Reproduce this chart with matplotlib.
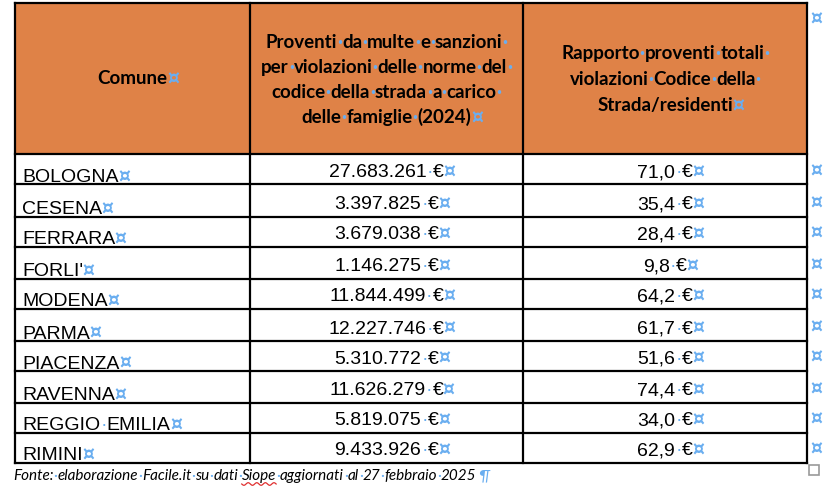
import matplotlib
matplotlib.use('Agg')
import numpy as np
import matplotlib.pyplot as plt
from matplotlib.patches import Rectangle

# Dati della tabella
comuni = ['BOLOGNA', 'CESENA', 'FERRARA', "FORLI'", 'MODENA', 'PARMA',
          'PIACENZA', 'RAVENNA', 'REGGIO EMILIA', 'RIMINI']
proventi = [27683261, 3397825, 3679038, 1146275, 11844499, 12227746,
            5310772, 11626279, 5819075, 9433926]
rapporto = [71.0, 35.4, 28.4, 9.8, 64.2, 61.7, 51.6, 74.4, 34.0, 62.9]

header_col1 = 'Comune'
header_col2 = ['Proventi da multe e sanzioni ', 'per violazioni delle norme del ',
               'codice della strada a carico ', 'delle famiglie (2024)']
header_col3 = ['Rapporto proventi totali ', 'violazioni Codice della ',
               'Strada/residenti']
fonte = 'Fonte: elaborazione Facile.it su dati Siope aggiornati al 27 febbraio 2025'

# Layout (pixel)
W, H = 838, 494
col_x = [15, 250, 523, 807]
table_top = 3.5
row_lines = [154.5, 184.5, 216.5, 246.5, 278.5, 308.5, 341, 371, 402.5, 432.5, 462.5]
orange = '#DF8247'
mark_blue = '#6AAEF0'
CELL_END = '\u00a4'
mark_font = dict(family='DejaVu Sans', fontweight='bold', fontsize=13.5)

fig = plt.figure(figsize=(W / 100, H / 100), dpi=100)
ax = fig.add_axes([0, 0, 1, 1])
ax.set_xlim(0, W)
ax.set_ylim(H, 0)
ax.axis('off')
renderer = fig.canvas.get_renderer()


def text_width(s, **kw):
    t = ax.text(0, 0, s, **kw)
    w = t.get_window_extent(renderer).width
    t.remove()
    return w


def draw_runs(x, y, text, ha='left', end=None, **kw):
    # testo con i segni di formattazione di Word (spazi come punti, fine cella)
    pieces = []
    words = text.split(' ')
    for i, wd in enumerate(words):
        if wd:
            pieces.append((wd, 'black', kw))
        if i < len(words) - 1:
            pieces.append(('\u00b7', mark_blue, kw))
    widths = [text_width(p, **k) for p, _, k in pieces]
    if ha == 'center':
        x = x - sum(widths) / 2
    spans = {}
    for (p, c, k), w in zip(pieces, widths):
        ax.text(x, y, p, color=c, va='baseline', ha='left', **k)
        spans[p] = (x, x + w)
        x += w
    if end:
        ax.text(x - 0.5, y + 0.5, end, color=mark_blue, va='baseline', ha='left', **mark_font)
    return spans


# Intestazione
ax.add_patch(Rectangle((col_x[0], table_top), col_x[-1] - col_x[0],
                       row_lines[0] - table_top, color=orange, lw=0))
hdr = dict(family='Lato', fontweight='bold', fontsize=13.5)
draw_runs((col_x[0] + col_x[1]) / 2, 84, header_col1, ha='center', end=CELL_END, **hdr)
for i, line in enumerate(header_col2):
    end = CELL_END if i == len(header_col2) - 1 else None
    draw_runs((col_x[1] + col_x[2]) / 2, 48.5 + i * 24.7, line, ha='center', end=end, **hdr)
for i, line in enumerate(header_col3):
    end = CELL_END if i == len(header_col3) - 1 else None
    draw_runs((col_x[2] + col_x[3]) / 2, 59 + i * 26, line, ha='center', end=end, **hdr)

# Righe
body = dict(family='Liberation Sans', fontsize=14)
for i, (c, p, r) in enumerate(zip(comuni, proventi, rapporto)):
    bottom = row_lines[i + 1]
    draw_runs(col_x[0] + 7, bottom - 2.5, c, end=CELL_END, **body)
    draw_runs((col_x[1] + col_x[2]) / 2, bottom - 7.5,
              f'{p:,}'.replace(',', '.') + ' \u20ac', ha='center', end=CELL_END, **body)
    draw_runs((col_x[2] + col_x[3]) / 2, bottom - 7.5,
              f'{r:.1f}'.replace('.', ',') + ' \u20ac', ha='center', end=CELL_END, **body)
    ax.text(810.5, bottom - 8, CELL_END, color=mark_blue, ha='left', va='baseline', **mark_font)
ax.text(810.5, 25, CELL_END, color=mark_blue, ha='left', va='baseline', **mark_font)

# Bordi
for y in [table_top] + row_lines:
    ax.plot([col_x[0], col_x[-1]], [y, y], color='black', lw=1.6, solid_capstyle='projecting')
for x in col_x:
    ax.plot([x, x], [table_top, row_lines[-1]], color='black', lw=1.6, solid_capstyle='projecting')

# Fonte
spans = draw_runs(13, 480, fonte, end=None, family='Lato', fontstyle='italic', fontsize=11)
last = max(v[1] for v in spans.values())
ax.text(last + 2, 480, '\u00b6', color=mark_blue, va='baseline', ha='left',
        family='Lato', fontstyle='italic', fontsize=11.5)
# sottolineatura ondulata del controllo ortografico
x0, x1 = spans['Siope']
xs = np.linspace(x0, x1, 60)
ax.plot(xs, 484 + 1.3 * np.sin((xs - x0) / (x1 - x0) * 2 * np.pi * 4), color='#E03030', lw=0.9)
ax.add_patch(Rectangle((809, 465), 10, 10, fill=False, ec='#999999', lw=1.2))

fig.savefig('out.png', dpi=100, facecolor='white')
